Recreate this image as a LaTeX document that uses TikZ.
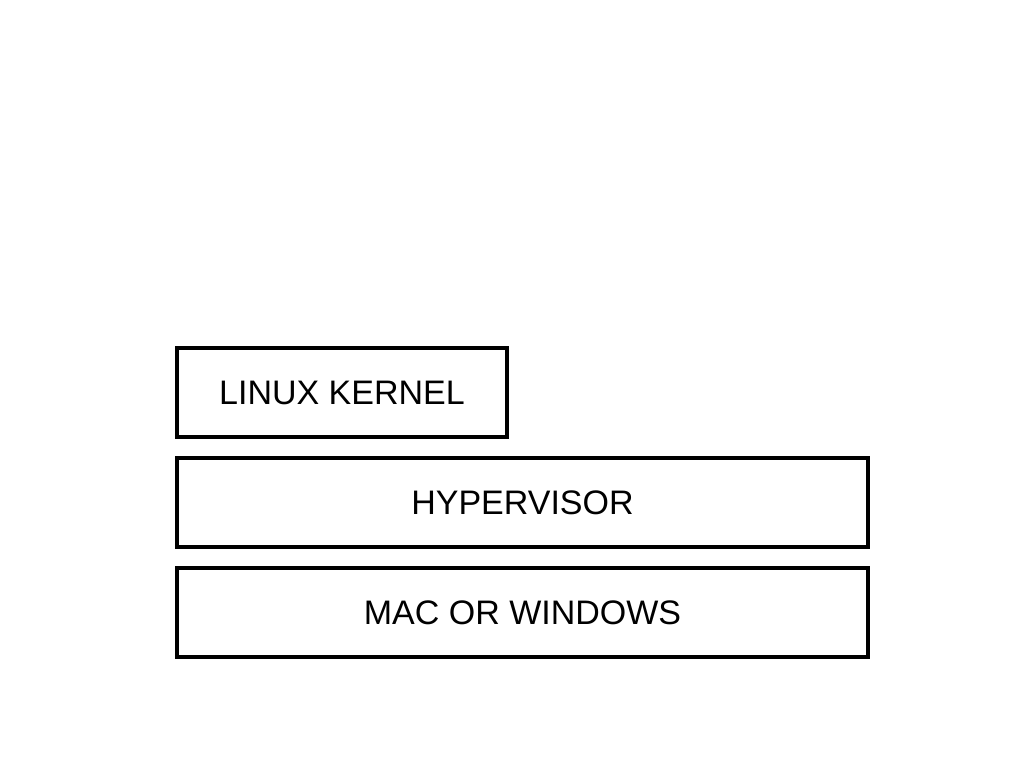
\documentclass[tikz,border=0pt]{standalone}
\usepackage{fontspec}
\setmainfont{Liberation Sans}
\usetikzlibrary{positioning}

\begin{document}
\begin{tikzpicture}[x=1pt,y=-1pt,
  layer/.style={draw,line width=3.5pt,minimum height=89pt,font=\fontsize{34}{38}\selectfont}]
\useasboundingbox (0,0) rectangle (1024,763);

\path (522.5,612.5) node[layer,minimum width=691pt] (M) {MAC OR WINDOWS};
\path node[layer,minimum width=691pt,above=17.5pt of M] (H) {HYPERVISOR};
\path node[layer,minimum width=330pt,above=17.5pt of H.north west,anchor=south west] (L) {LINUX KERNEL};

\end{tikzpicture}
\end{document}
